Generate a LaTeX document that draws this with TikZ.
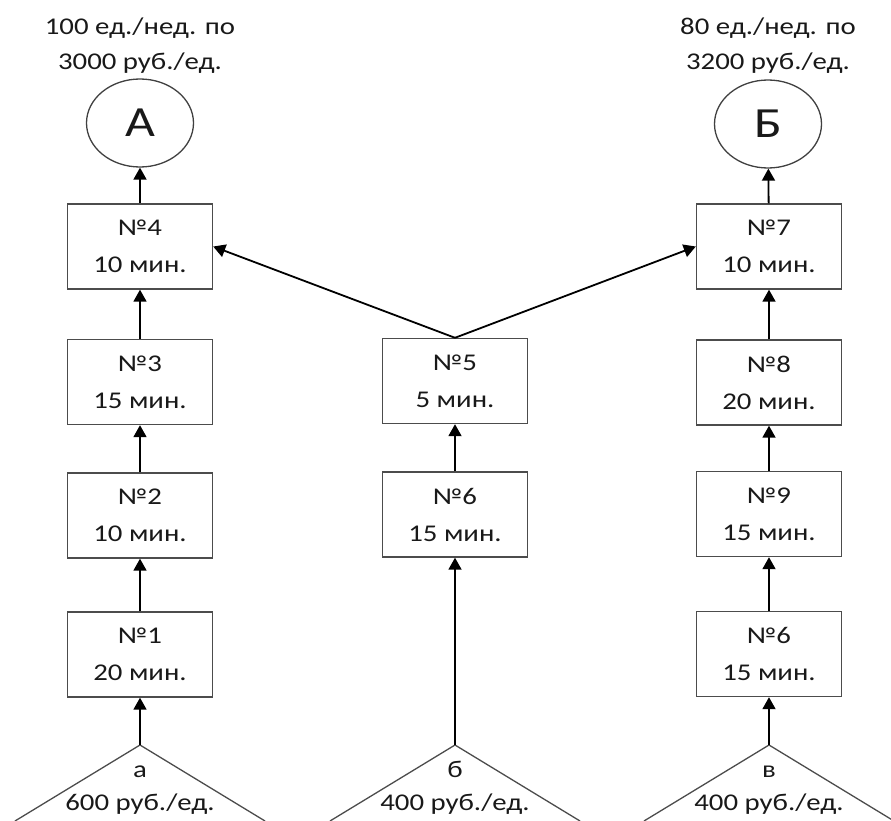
\documentclass[tikz,border=0pt]{standalone}
\usepackage{fontspec}
\setmainfont{Carlito}[FakeStretch=1.2]
\usetikzlibrary{arrows.meta,shapes.geometric}

\tikzset{
  opbox/.style={draw=black!70, line width=1.4pt, minimum width=145pt, minimum height=85pt,
    inner sep=0pt, align=center, text=black!90, font=\fontsize{24}{37}\selectfont},
  product/.style={ellipse, draw=black!75, line width=1.3pt, minimum width=107pt,
    minimum height=88pt, inner sep=0pt, text=black!90, font=\fontsize{43}{43}\selectfont},
  outlabel/.style={align=center, text=black!90, font=\fontsize{24}{35}\selectfont},
  srctext/.style={text=black!90, font=\fontsize{24}{24}\selectfont},
  srcside/.style={draw=black!70, line width=1.3pt},
  flow/.style={line width=1.8pt, -{Triangle[length=12pt,width=13pt]}}
}

\begin{document}
\begin{tikzpicture}[x=1pt,y=-1pt]
  \useasboundingbox (0,0) rectangle (891,821);
  % Products and their weekly demand
  \node[product] (A) at (140,123) {А};
  \node[product] (B) at (768,124) {Б};
  \node[outlabel] (demA) at (140,46) {100 ед./нед. по\\3000 руб./ед.};
  \node[outlabel] (demB) at (768,46) {80 ед./нед. по\\3200 руб./ед.};
  % Left line: operations 1-4
  \foreach \n/\t/\y in {4/10/246.5,3/15/382,2/10/515.5,1/20/654.5}
    \node[opbox] (l\n) at (140,\y) {№\n\\\t~мин.};
  % Middle line: operations 6, 5
  \node[opbox] (m5) at (455,381) {№5\\5 мин.};
  \node[opbox] (m6) at (455,514.5) {№6\\15 мин.};
  % Right line: operations 6, 9, 8, 7
  \foreach \n/\t/\y in {7/10/246.5,8/20/382.5,9/15/514,6/15/654}
    \node[opbox] (r\n) at (769,\y) {№\n\\\t~мин.};
  % Raw materials
  \coordinate (ta) at (140,745);
  \coordinate (tb) at (455,745);
  \coordinate (tc) at (769,745);
  \foreach \c in {ta,tb,tc} \draw[srcside] (\c) ++(-125,76) -- (\c) -- ++(125,76);
  \node[srctext,anchor=base] (sa) at (140,777) {а};
  \node[srctext,anchor=base] (pa) at (140,810) {600 руб./ед.};
  \node[srctext,anchor=base] (sb) at (455,777) {б};
  \node[srctext,anchor=base] (pb) at (455,810) {400 руб./ед.};
  \node[srctext,anchor=base] (sc) at (769,777) {в};
  \node[srctext,anchor=base] (pc) at (769,810) {400 руб./ед.};
  % Flows
  \foreach \a/\b in {ta/l1,l1/l2,l2/l3,l3/l4,l4/A,tb/m6,m6/m5,tc/r6,r6/r9,r9/r8,r8/r7,r7/B}
    \draw[flow] (\a) -- (\b);
  \draw[flow] (m5.north) -- (l4.east);
  \draw[flow] (m5.north) -- (r7.west);
\end{tikzpicture}
\end{document}
